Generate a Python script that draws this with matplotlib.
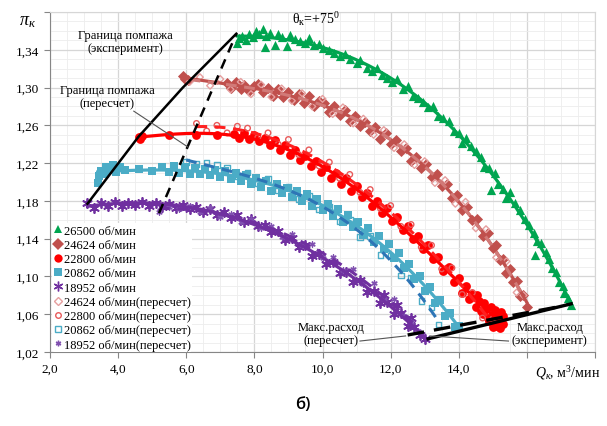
import numpy as np
import matplotlib
matplotlib.use("Agg")
import matplotlib.pyplot as plt
from matplotlib.lines import Line2D

plt.rcParams['font.family'] = ['Liberation Serif', 'DejaVu Serif']
plt.rcParams['mathtext.fontset'] = 'custom'
plt.rcParams['mathtext.rm'] = 'Liberation Serif'
plt.rcParams['mathtext.it'] = 'Liberation Serif:italic'
plt.rcParams['mathtext.bf'] = 'Liberation Serif:bold'

# ---------------- data ----------------
q_26500 = [7.5,7.55,7.65,7.75,7.85,7.95,8.05,8.15,8.25,8.35,8.3,8.45,8.6,8.7,8.8,8.95,9.05,9.2,9.35,9.5,9.6,9.75,9.9,10.0,10.2,10.35,10.5,10.65,10.8,11.0,11.1,11.3,11.45,11.6,11.75,11.9,12.05,12.2,12.35,12.5,12.65,12.8,12.95,13.1,13.25,13.4,13.55,13.7,13.85,14.0,14.1,14.2,14.35,14.5,14.65,14.75,14.9,14.95,15.05,15.15,15.3,15.4,15.5,15.65,15.8,15.95,16.05,16.2,16.25,16.3,16.4,16.55,16.65,16.75,16.85,16.95,17.05,17.1,17.2,17.25,17.3]
p_26500 = [1.347,1.352,1.355,1.350,1.357,1.354,1.360,1.357,1.362,1.355,1.343,1.358,1.345,1.357,1.354,1.344,1.356,1.351,1.349,1.347,1.352,1.345,1.346,1.342,1.340,1.337,1.333,1.336,1.330,1.326,1.329,1.321,1.318,1.321,1.313,1.310,1.306,1.309,1.299,1.302,1.291,1.289,1.285,1.279,1.281,1.270,1.268,1.265,1.254,1.252,1.241,1.247,1.238,1.233,1.227,1.216,1.215,1.192,1.210,1.198,1.193,1.183,1.189,1.178,1.170,1.161,1.155,1.146,1.123,1.138,1.135,1.126,1.118,1.109,1.105,1.094,1.090,1.082,1.077,1.074,1.070]

q_24624 = [5.9,5.95,6.05,7.2,7.3,7.45,7.6,7.7,7.85,8.0,8.1,8.25,8.4,8.55,8.7,8.85,9.0,9.15,9.3,9.45,9.6,9.75,9.9,10.05,10.2,10.35,10.5,10.65,10.8,10.95,11.1,11.25,11.4,11.55,11.7,11.85,12.0,12.15,12.3,12.45,12.6,12.75,12.9,13.05,13.2,13.35,13.5,13.65,13.8,13.95,14.1,14.25,14.4,14.55,14.7,14.85,15.0,15.1,15.2,15.3,15.4,15.5,15.6,15.7,15.8,15.9,16.0]
p_24624 = [1.312,1.309,1.308,1.305,1.300,1.306,1.298,1.303,1.296,1.302,1.304,1.295,1.300,1.291,1.298,1.290,1.295,1.287,1.293,1.284,1.291,1.281,1.286,1.284,1.274,1.280,1.271,1.276,1.265,1.270,1.259,1.264,1.254,1.258,1.246,1.252,1.240,1.244,1.233,1.236,1.222,1.227,1.215,1.219,1.205,1.209,1.196,1.198,1.183,1.186,1.170,1.174,1.160,1.161,1.143,1.146,1.130,1.133,1.117,1.119,1.104,1.108,1.094,1.095,1.079,1.080,1.068]

q_22800 = [4.6,4.65,4.7,5.5,6.3,6.9,7.4,7.55,7.7,7.85,8.0,8.15,8.3,8.45,8.6,8.75,8.9,9.05,9.2,9.35,9.5,9.65,9.8,9.95,10.1,10.25,10.4,10.55,10.7,10.85,11.0,11.15,11.3,11.45,11.6,11.75,11.9,12.05,12.2,12.35,12.5,12.65,12.8,12.95,13.1,13.25,13.4,13.55,13.7,13.85,14.0,14.1,14.2,14.3,14.4,14.5,14.6,14.7,14.8,14.9,15.0,15.1,15.2,15.3,14.55,14.75,14.95,15.05,15.15,15.25,15.2,14.85,15.0,14.65,15.3]
p_22800 = [1.248,1.246,1.249,1.250,1.250,1.250,1.251,1.247,1.252,1.246,1.250,1.243,1.247,1.239,1.244,1.234,1.239,1.229,1.234,1.223,1.228,1.217,1.222,1.211,1.216,1.204,1.210,1.198,1.204,1.191,1.196,1.184,1.188,1.175,1.180,1.167,1.172,1.159,1.163,1.149,1.153,1.140,1.143,1.129,1.133,1.118,1.121,1.106,1.110,1.094,1.098,1.083,1.090,1.076,1.081,1.068,1.074,1.060,1.066,1.053,1.059,1.048,1.055,1.050,1.080,1.072,1.068,1.064,1.060,1.062,1.045,1.056,1.047,1.063,1.058]

q_20862 = [3.4,3.45,3.5,3.6,3.65,3.75,3.85,3.95,4.05,4.2,4.6,5.0,5.3,5.5,5.65,5.8,5.95,6.1,6.25,6.4,6.55,6.7,6.85,7.0,7.15,7.3,7.45,7.6,7.75,7.9,8.05,8.2,8.35,8.5,8.65,8.8,8.95,9.1,9.25,9.4,9.55,9.7,9.85,10.0,10.15,10.3,10.45,10.6,10.75,10.9,11.05,11.2,11.35,11.5,11.65,11.8,11.95,12.1,12.25,12.4,12.55,12.7,12.85,13.0,13.15,13.3,13.45,13.6,13.75,13.9,14.0]
p_20862 = [1.199,1.206,1.212,1.208,1.216,1.213,1.218,1.211,1.216,1.213,1.214,1.212,1.216,1.211,1.217,1.210,1.216,1.209,1.215,1.208,1.214,1.207,1.213,1.205,1.212,1.203,1.210,1.201,1.207,1.198,1.204,1.195,1.201,1.191,1.198,1.188,1.194,1.184,1.191,1.180,1.187,1.175,1.182,1.170,1.177,1.164,1.171,1.158,1.165,1.152,1.158,1.144,1.151,1.137,1.143,1.129,1.134,1.120,1.125,1.109,1.113,1.097,1.101,1.085,1.089,1.072,1.075,1.058,1.061,1.046,1.048]

q_18952 = [3.1,3.3,3.5,3.7,3.9,4.1,4.3,4.5,4.7,4.9,5.1,5.3,5.5,5.7,5.9,6.1,6.3,6.5,6.7,6.9,7.1,7.3,7.5,7.7,7.9,8.1,8.3,8.5,8.7,8.9,9.1,9.3,9.5,9.7,9.9,10.1,10.3,10.5,10.7,10.9,11.1,11.3,11.5,11.7,11.9,12.1,12.3,12.5,12.7,12.85,13.0,12.6,12.2,11.8]
p_18952 = [1.178,1.173,1.178,1.175,1.179,1.175,1.178,1.176,1.179,1.175,1.178,1.174,1.177,1.173,1.176,1.171,1.174,1.168,1.171,1.165,1.168,1.162,1.165,1.158,1.161,1.153,1.155,1.147,1.148,1.139,1.141,1.131,1.133,1.122,1.124,1.113,1.115,1.104,1.105,1.094,1.096,1.084,1.085,1.072,1.073,1.060,1.061,1.048,1.046,1.038,1.034,1.056,1.070,1.080]

q_24624r = [6.1,6.4,6.7,7.0,7.3,7.6,7.9,8.2,8.5,8.8,9.1,9.4,9.7,10.0,10.3,10.6,10.9,11.2,11.5,11.8,12.1,12.4,12.7,13.0,13.3,13.6,13.9,14.2,14.5,14.8,15.1,15.4,15.7,15.9]
p_24624r = [1.306,1.311,1.302,1.309,1.298,1.306,1.293,1.303,1.290,1.299,1.286,1.294,1.280,1.288,1.272,1.279,1.262,1.267,1.250,1.255,1.236,1.240,1.218,1.222,1.199,1.202,1.177,1.179,1.151,1.150,1.120,1.116,1.083,1.080]

q_22800r = [6.3,6.6,6.9,7.2,7.5,7.8,8.1,8.4,8.7,9.0,9.3,9.6,9.9,10.2,10.5,10.8,11.1,11.4,11.7,12.0,12.3,12.6,12.9,13.2,13.5,13.8,14.1,14.4,14.7,15.0]
p_22800r = [1.262,1.254,1.260,1.252,1.259,1.257,1.247,1.252,1.240,1.245,1.229,1.234,1.217,1.221,1.204,1.208,1.189,1.192,1.172,1.175,1.153,1.155,1.131,1.133,1.108,1.109,1.081,1.083,1.056,1.055]

q_20862r = [6.0,6.3,6.6,6.9,7.2,7.5,7.8,8.1,8.4,8.7,9.0,9.3,9.6,9.9,10.2,10.5,10.8,11.1,11.4,11.7,12.0,12.3,12.6,12.9,13.2,13.4]
p_20862r = [1.221,1.219,1.220,1.218,1.215,1.206,1.210,1.199,1.203,1.191,1.195,1.182,1.185,1.171,1.174,1.158,1.160,1.142,1.143,1.123,1.122,1.101,1.099,1.074,1.067,1.049]

q_18952r = [5.2,5.5,5.8,6.1,6.4,6.7,7.0,7.3,7.6,7.9,8.2,8.5,8.8,9.1,9.4,9.7,10.0,10.3,10.6,10.9,11.2,11.5,11.8,12.1,12.4,12.6,12.8]
p_18952r = [1.168,1.174,1.171,1.175,1.168,1.172,1.163,1.166,1.158,1.161,1.151,1.153,1.142,1.145,1.133,1.134,1.120,1.121,1.107,1.108,1.092,1.093,1.076,1.076,1.058,1.052,1.042]

surge_exp_q = [3.1, 4.6, 5.9, 7.47]
surge_exp_p = [1.177, 1.248, 1.300, 1.357]
surge_rec_q = [5.2, 7.47]
surge_rec_p = [1.167, 1.357]
maxflow_exp_q = [13.1, 17.3]
maxflow_exp_p = [1.034, 1.071]
maxflow_rec_q = [12.5, 17.1]
maxflow_rec_p = [1.038, 1.069]

x_ticks = [2, 4, 6, 8, 10, 12, 14, 16, 18]
x_labels = ["2,0", "4,0", "6,0", "8,0", "10,0", "12,0", "14,0", "", ""]
y_ticks = [1.02, 1.06, 1.10, 1.14, 1.18, 1.22, 1.26, 1.30, 1.34, 1.38]
y_labels = ["1,02", "1,06", "1,10", "1,14", "1,18", "1,22", "1,26", "1,30", "1,34", ""]

# ---------------- figure ----------------
fig = plt.figure(figsize=(6.07, 4.27), dpi=100)
ax = fig.add_axes([50/607, 1-353/427, 545/607, 340/427])
ax.set_xlim(2, 18)
ax.set_ylim(1.02, 1.38)

ax.set_xticks(np.arange(2, 18.01, 0.5), minor=True)
ax.set_yticks(np.arange(1.02, 1.3801, 0.01), minor=True)
ax.set_xticks(x_ticks)
ax.set_xticklabels(x_labels)
ax.set_yticks(y_ticks)
ax.set_yticklabels(y_labels)
ax.grid(which='major', color='#D6D6D6', lw=0.9)
ax.grid(which='minor', color='#EDEDED', lw=0.6)
ax.set_axisbelow(True)
ax.tick_params(which='minor', length=0)
ax.tick_params(which='major', direction='out', length=4, color='#868686',
               labelsize=9.5, pad=4)
for s in ['left', 'bottom']:
    ax.spines[s].set_color('#868686')
for s in ['top', 'right']:
    ax.spines[s].set_color('#D6D6D6')

series = [
    (q_26500, p_26500, '26500 об/мин', '#00A550', '^', 44, 'full', '-', '#00A550', 3),
    (q_24624, p_24624, '24624 об/мин', '#C0504D', 'D', 32, 'full', '-', '#C0504D', 3),
    (q_22800, p_22800, '22800 об/мин', '#FF0000', 'o', 40, 'full', '-', '#FF0000', 4),
    (q_20862, p_20862, '20862 об/мин', '#4BACC6', 's', 40, 'full', '-', '#4BACC6', 3),
    (q_18952, p_18952, '18952 об/мин', '#7030A0', (6, 2, 0), 44, 'full', '-', '#7030A0', 3),
    (q_24624r, p_24624r, '24624 об/мин(пересчет)', '#E6A0A0', 'D', 12, 'none', '--', '#D27A78', 3),
    (q_22800r, p_22800r, '22800 об/мин(пересчет)', '#E85A5A', 'o', 16, 'none', '--', '#FF2020', 3),
    (q_20862r, p_20862r, '20862 об/мин(пересчет)', '#4BACC6', 's', 16, 'none', '--', '#2E75B6', 3),
    (q_18952r, p_18952r, '18952 об/мин(пересчет)', '#8050B0', (6, 2, 0), 14, 'none', '--', '#7030A0', 3),
]

handles = []
for q, p, lab, col, mk, sz, fill, ls, lcol, deg in series:
    q = np.asarray(q); p = np.asarray(p)
    if fill == 'full':
        ax.scatter(q, p, s=sz, marker=mk, color=col, linewidths=1.3 if mk == (6, 2, 0) else 0, zorder=3)
        h = Line2D([], [], ls='none', marker=mk, color=col, markersize=6 if mk != (6, 2, 0) else 7,
                   markeredgewidth=1.0 if mk == (6, 2, 0) else 0)
    else:
        if mk == (6, 2, 0):
            ax.scatter(q, p, s=sz, marker=mk, color=col, linewidths=1.0, zorder=4)
        else:
            ax.scatter(q, p, s=sz, marker=mk, facecolors='none', edgecolors=col, linewidths=1.0, zorder=4)
        h = Line2D([], [], ls='none', marker=mk, markersize=4, markerfacecolor='none' if mk != (6, 2, 0) else col,
                   markeredgecolor=col, markeredgewidth=1.0)
    handles.append((h, lab))
    coef = np.polyfit(q, p, deg)
    xs = np.linspace(q.min(), q.max(), 200)
    if ls == '-':
        ax.plot(xs, np.polyval(coef, xs), color=lcol, lw=2.3, zorder=5)
    else:
        ax.plot(xs, np.polyval(coef, xs), color=lcol, lw=2.2, ls=(0, (3.5, 2.5)), zorder=6)

# boundary lines
ax.plot(surge_exp_q, surge_exp_p, color='black', lw=1.8, zorder=7)
ax.plot(surge_rec_q, surge_rec_p, color='black', lw=1.8, ls=(0, (4, 3)), zorder=7)
ax.plot(maxflow_exp_q, maxflow_exp_p, color='black', lw=2.4, zorder=7)
ax.plot(maxflow_rec_q, maxflow_rec_p, color='black', lw=2.4, ls=(0, (5, 3)), zorder=7)

# annotations
ax.text(4.2, 1.349, 'Граница помпажа\n(эксперимент)', ha='center', va='center',
        fontsize=9, linespacing=1.1, zorder=8)
ax.text(3.67, 1.291, 'Граница помпажа\n(пересчет)', ha='center', va='center',
        fontsize=9, linespacing=1.1, zorder=8)
ax.plot([4.46, 6.05], [1.275, 1.237], color='#555555', lw=0.8, zorder=8)
ax.text(9.8, 1.374, r'$\mathrm{θ}_{\mathrm{к}}$=+75$^{\mathrm{0}}$', ha='center', va='center',
        fontsize=10, zorder=8)
ax.text(10.25, 1.0396, 'Макс.расход\n(пересчет)', ha='center', va='center',
        fontsize=9, linespacing=1.1, zorder=8)
ax.text(16.67, 1.0396, 'Макс.расход\n(эксперимент)', ha='center', va='center',
        fontsize=9, linespacing=1.1, zorder=8)
ax.plot([11.1, 12.44], [1.0316, 1.037], color='#555555', lw=0.8, zorder=8)
ax.plot([15.46, 13.15], [1.0316, 1.037], color='#555555', lw=0.8, zorder=8)

# axis titles
fig.text(28/607, 1-21/427, r'$\mathit{π}_{\mathit{к}}$', ha='center', va='center', fontsize=13)
fig.text(568/607, 1-373/427, r'$\mathit{Q}_{\mathit{к}}$, м$^{3}$/мин', ha='center', va='center', fontsize=10)
fig.text(303/607, 1-405/427, 'б)', ha='center', va='center', fontsize=12, weight='semibold',
         family=['Open Sans', 'DejaVu Sans'])

leg = ax.legend([h for h, _ in handles], [l for _, l in handles], loc='upper left',
                bbox_to_anchor=(0.004, 0.378), fontsize=9, frameon=True, framealpha=1,
                edgecolor='none', facecolor='white', handlelength=0.7, handletextpad=0.15,
                labelspacing=0.18, borderpad=0.1, borderaxespad=0)
leg.set_zorder(9)

fig.savefig('out.png', dpi=100)
